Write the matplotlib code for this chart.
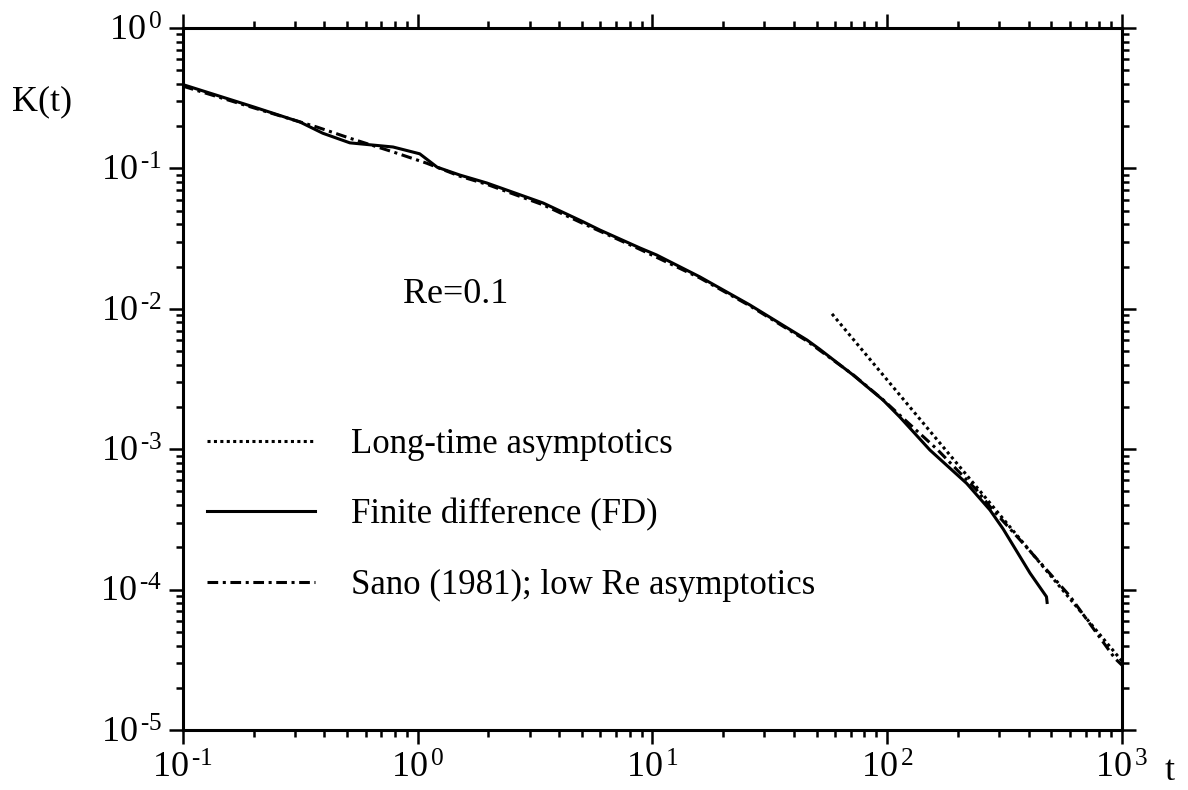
"""K(t) memory kernel at Re=0.1: finite difference vs Sano (1981) and the t^-2 tail."""

import math

import matplotlib

matplotlib.use("Agg")
import matplotlib.pyplot as plt
from matplotlib.lines import Line2D
from matplotlib.ticker import LogLocator, FixedLocator, NullFormatter

plt.rcParams["font.family"] = ["Liberation Serif", "DejaVu Serif"]
plt.rcParams["mathtext.fontset"] = "custom"
plt.rcParams["mathtext.rm"] = "Liberation Serif"
plt.rcParams["mathtext.it"] = "Liberation Serif:italic"

# finite difference (solid)
fd_t = [0.1, 0.2, 0.315, 0.394, 0.514, 0.785, 1.02, 1.21, 1.51, 1.97, 3.42, 5.06,
        5.97, 8.85, 10.4, 15.9, 26.0, 45.5, 51.6, 71.5, 96.0, 113.0, 152.0,
        218.0, 274.0, 312.0, 406.0, 477.0, 480.0]
fd_k = [0.395, 0.274, 0.214, 0.178, 0.152, 0.142, 0.127, 0.102, 0.0897, 0.0787,
        0.0567, 0.0417, 0.0364, 0.0271, 0.0242, 0.0169, 0.01065, 0.006, 0.00515,
        0.00338, 0.00224, 0.0017, 0.000987, 0.000571, 0.000369, 0.00027,
        0.000131, 8.9e-5, 8.1e-5]

# Sano (1981), low Re asymptotics (dash-dot)
sano_t = [0.1, 0.2, 0.372, 0.514, 0.785, 1.09, 1.51, 1.97, 3.42, 5.06, 8.85, 15.9,
          26.0, 45.5, 71.5, 96.0, 125.0, 163.0, 241.0, 274.0, 368.0, 600.0, 933.0, 1000.0]
sano_k = [0.385, 0.27, 0.197, 0.164, 0.131, 0.109, 0.088, 0.077, 0.055, 0.0405,
          0.0265, 0.0166, 0.0105, 0.0059, 0.0034, 0.00225, 0.0015, 0.001, 0.00051,
          0.00039, 0.000226, 9.0e-5, 3.24e-5, 2.9e-5]

# long-time asymptotics (dotted), a straight t^-2 line
asym_t = [58.2, 1000.0]
asym_k = [0.0092, 3.1e-5]

LABELS = ["Long-time asymptotics", "Finite difference (FD)", "Sano (1981); low Re asymptotics"]
XTICKS = [0.1, 1, 10, 100, 1000]
YTICKS = [1e-5, 1e-4, 1e-3, 1e-2, 1e-1, 1]


def _pow_label(v):
    """10 with a raised exponent, written with a plain hyphen like the original."""
    return rf"$10^{{\,\text{{{round(math.log10(v))}}}}}$"


fig = plt.figure(figsize=(11.88, 7.9), dpi=100)
ax = fig.add_axes([0.154, 0.0759, 0.7904, 0.8887])
ax.set_xscale("log")
ax.set_yscale("log")
ax.set_xlim(0.1, 1000)
ax.set_ylim(1e-5, 1)

dotted = (0, (1.0, 1.1))
dashdot = (0, (3.5, 1.5, 1.0, 1.5))
ax.plot(asym_t, asym_k, color="black", lw=2.2, linestyle=dotted)
ax.plot(fd_t, fd_k, color="black", lw=2.2, linestyle="-")
ax.plot(sano_t, sano_k, color="black", lw=2.2, linestyle=dashdot)

for side in ax.spines.values():
    side.set_linewidth(2.2)

ax.xaxis.set_major_locator(FixedLocator(XTICKS))
ax.yaxis.set_major_locator(FixedLocator(YTICKS))
for axis in (ax.xaxis, ax.yaxis):
    axis.set_minor_locator(LogLocator(base=10, subs=range(2, 10), numticks=20))
    axis.set_minor_formatter(NullFormatter())
ax.set_xticklabels([_pow_label(v) for v in XTICKS])
ax.set_yticklabels([_pow_label(v) for v in YTICKS])
ax.tick_params(which="both", direction="out", top=True, right=True, width=1.8, labelsize=26)
ax.tick_params(which="major", length=10)
ax.tick_params(which="minor", length=5)
ax.tick_params(axis="x", which="major", pad=6)
ax.tick_params(axis="y", which="major", pad=5)

ax.text(0.29, 0.62, "Re=0.1", transform=ax.transAxes, fontsize=26,
        ha="center", va="center")
fig.text(0.035, 0.871, "K(t)", fontsize=26, ha="center", va="center")
fig.text(0.985, 0.023, "t", fontsize=26, ha="center", va="center")

handles = [
    Line2D([], [], color="black", lw=2.2, linestyle=dotted),
    Line2D([], [], color="black", lw=2.2, linestyle="-"),
    Line2D([], [], color="black", lw=2.2, linestyle=dashdot),
]
ax.legend(handles, LABELS, loc="upper left", bbox_to_anchor=(0.0, 0.465),
          frameon=False, fontsize=25, handlelength=3.1, handletextpad=1.05,
          labelspacing=1.08, borderaxespad=0.3)

fig.savefig("out.png", dpi=100)
